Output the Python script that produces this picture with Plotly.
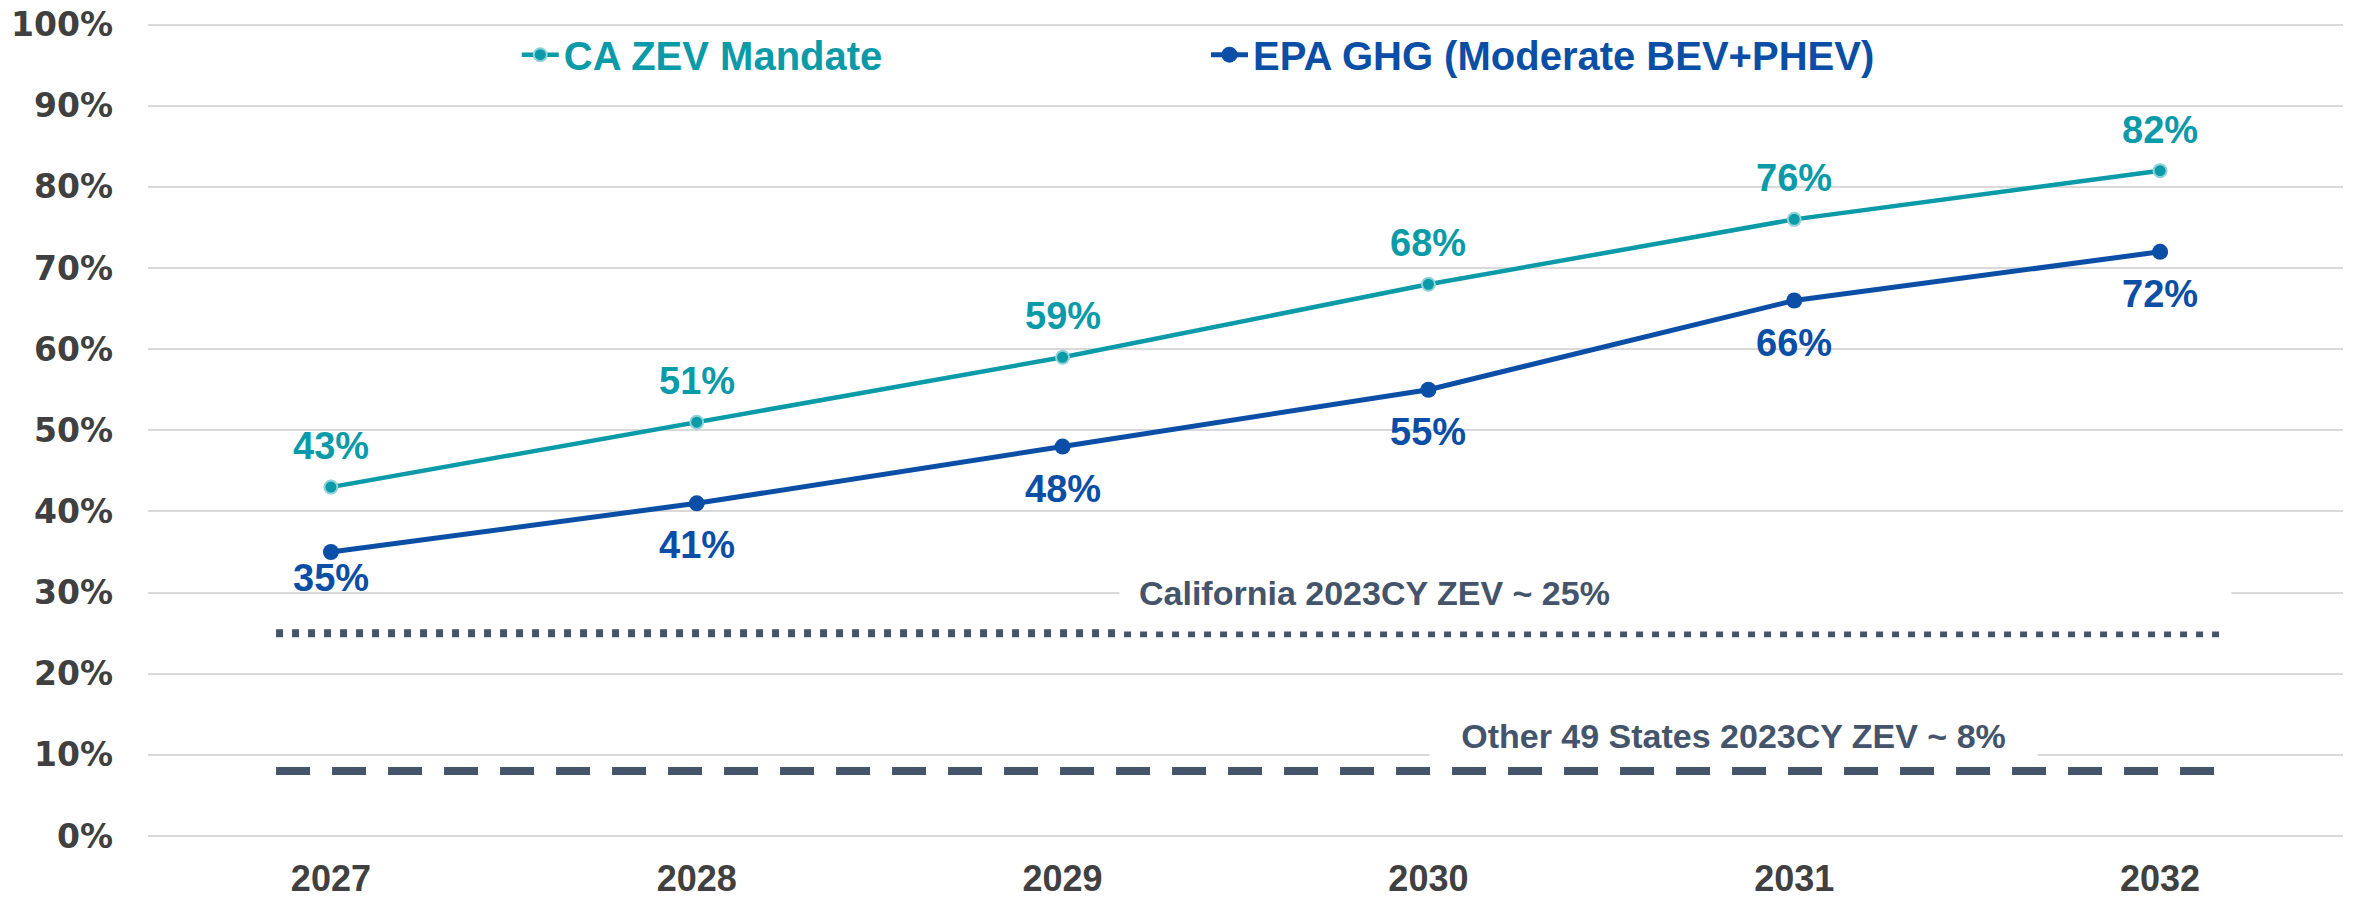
"""ZEV share outlook: CA mandate vs EPA GHG, with 2023 reference levels."""

import plotly.graph_objects as go

years = [2027, 2028, 2029, 2030, 2031, 2032]
ca_zev_mandate = [0.43, 0.51, 0.59, 0.68, 0.76, 0.82]
epa_ghg_moderate = [0.35, 0.41, 0.48, 0.55, 0.66, 0.72]

ca_2023_share = 0.25
other49_2023_share = 0.08
ref_span = [2026.85, 2032.18]

y_ticks = [0.0, 0.1, 0.2, 0.3, 0.4, 0.5, 0.6, 0.7, 0.8, 0.9, 1.0]
y_tick_text = ["0%", "10%", "20%", "30%", "40%", "50%", "60%", "70%", "80%", "90%", "100%"]

TEAL = "#0A9AA8"
BLUE = "#0B4EA5"
SLATE = "#44546A"
GRID = "#D9D9D9"
TICK = "#404040"
SANS = "Liberation Sans, Arial, sans-serif"

fig = go.Figure()

fig.add_trace(go.Scatter(
    x=years, y=ca_zev_mandate, mode="lines+markers", name="CA ZEV Mandate",
    line=dict(color=TEAL, width=4.5),
    marker=dict(size=13, color=TEAL, line=dict(color="#8FD2D8", width=2)),
    legend="legend",
))
fig.add_trace(go.Scatter(
    x=years, y=epa_ghg_moderate, mode="lines+markers", name="EPA GHG (Moderate BEV+PHEV)",
    line=dict(color=BLUE, width=5),
    marker=dict(size=16, color=BLUE),
    legend="legend2",
))

# 2023 reference levels
fig.add_trace(go.Scatter(
    x=ref_span, y=[ca_2023_share] * 2, mode="lines", showlegend=False, hoverinfo="skip",
    line=dict(color=SLATE, width=8, dash="7px,9px"),
))
fig.add_trace(go.Scatter(
    x=ref_span, y=[other49_2023_share] * 2, mode="lines", showlegend=False, hoverinfo="skip",
    line=dict(color=SLATE, width=8, dash="34px,22px"),
))

# data labels: CA above, EPA below
ca_shift = [41] * len(years)
epa_shift = [-26, -42, -42, -42, -43, -42]
for x, v, s in zip(years, ca_zev_mandate, ca_shift):
    fig.add_annotation(x=x, y=v, text=f"{v:.0%}", showarrow=False, yshift=s,
                       font=dict(family=SANS, size=38, color=TEAL, weight="bold"))
for x, v, s in zip(years, epa_ghg_moderate, epa_shift):
    fig.add_annotation(x=x, y=v, text=f"{v:.0%}", showarrow=False, yshift=s,
                       font=dict(family=SANS, size=38, color=BLUE, weight="bold"))

fig.add_annotation(
    x=2029.154, y=0.30, xanchor="left", yanchor="middle", showarrow=False,
    text=f"California 2023CY ZEV ~ {ca_2023_share:.0%}", align="left",
    width=1073, borderpad=19, bgcolor="white",
    font=dict(family=SANS, size=34, color=SLATE, weight="bold"),
)
fig.add_annotation(
    x=2030.834, y=0.123, xanchor="center", yanchor="middle", showarrow=False,
    text=f"Other 49 States 2023CY ZEV ~ {other49_2023_share:.0%}", align="center",
    width=585, borderpad=11, bgcolor="white",
    font=dict(family=SANS, size=34, color=SLATE, weight="bold"),
)

legend_common = dict(orientation="h", y=0.961, xanchor="left", yanchor="middle",
                     bgcolor="rgba(0,0,0,0)", itemwidth=37)
fig.update_layout(
    width=2351, height=894,
    paper_bgcolor="white", plot_bgcolor="white",
    margin=dict(l=140, r=16, t=15, b=66, autoexpand=False),
    showlegend=True,
    legend=dict(x=0.168, font=dict(family=SANS, size=40, color=TEAL, weight="bold"),
                **legend_common),
    legend2=dict(x=0.482, font=dict(family=SANS, size=40, color=BLUE, weight="bold"),
                 **legend_common),
    hovermode=False,
)
fig.update_xaxes(
    range=[2026.5, 2032.5], tickvals=years, ticktext=[str(y) for y in years],
    showgrid=False, zeroline=False, showline=False, ticks="",
    ticklabelstandoff=18, automargin=False, ticklabeloverflow="allow",
    tickfont=dict(family=SANS, size=36, color=TICK, weight="bold"),
)
fig.update_yaxes(
    range=[0, 1.002], tickvals=y_ticks, ticktext=y_tick_text,
    showgrid=True, gridcolor=GRID, gridwidth=2,
    zeroline=True, zerolinecolor=GRID, zerolinewidth=2, showline=False, ticks="",
    ticklabelstandoff=34, automargin=False, ticklabeloverflow="allow",
    tickfont=dict(family="DejaVu Sans, sans-serif", size=33, color=TICK, weight="bold"),
)

fig.write_html("out.html")
